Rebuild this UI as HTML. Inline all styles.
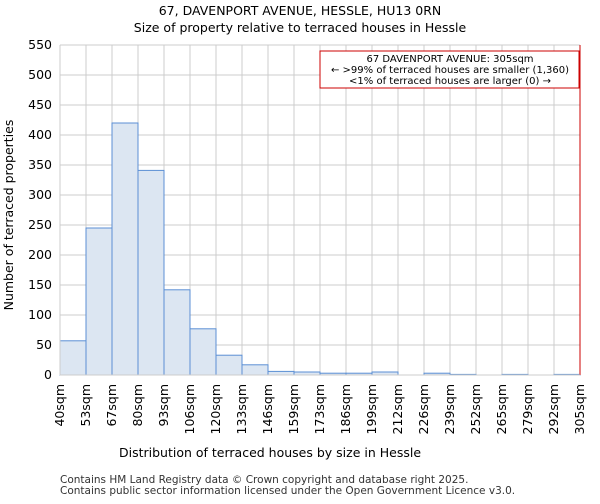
<!DOCTYPE html>
<html><head><meta charset="utf-8"><style>
body{margin:0;background:#fff;font-family:"DejaVu Sans","Liberation Sans",sans-serif;}
</style></head><body>
<svg id="c" width="600" height="500" xmlns="http://www.w3.org/2000/svg" font-family="DejaVu Sans, Liberation Sans, sans-serif">
<text x="300" y="15" text-anchor="middle" font-size="12.5">67, DAVENPORT AVENUE, HESSLE, HU13 0RN</text>
<text x="300" y="32" text-anchor="middle" font-size="12.5">Size of property relative to terraced houses in Hessle</text>
<g id="grid"></g><g id="bars"></g><g id="axes"></g>
<rect x="320" y="51" width="259" height="37" fill="#fff" stroke="#cc0000"/>
<text x="450" y="62" text-anchor="middle" font-size="10">67 DAVENPORT AVENUE: 305sqm</text>
<text x="450" y="73" text-anchor="middle" font-size="10">← &gt;99% of terraced houses are smaller (1,360)</text>
<text x="450" y="84" text-anchor="middle" font-size="10">&lt;1% of terraced houses are larger (0) →</text>
<text x="270" y="457" text-anchor="middle" font-size="12.5">Distribution of terraced houses by size in Hessle</text>
<text transform="translate(13,215) rotate(-90)" text-anchor="middle" font-size="12.5">Number of terraced properties</text>
<text x="60" y="483" font-size="10.5" fill="#333">Contains HM Land Registry data © Crown copyright and database right 2025.</text>
<text x="60" y="494" font-size="10.5" fill="#333">Contains public sector information licensed under the Open Government Licence v3.0.</text>
</svg>
<script>
const categories=["40sqm","53sqm","67sqm","80sqm","93sqm","106sqm","120sqm","133sqm","146sqm","159sqm","173sqm","186sqm","199sqm","212sqm","226sqm","239sqm","252sqm","265sqm","279sqm","292sqm","305sqm"];
const values=[57,245,420,341,142,77,33,17,6,5,3,3,5,0,3,1,0,1,0,1];
const yTicks=[0,50,100,150,200,250,300,350,400,450,500,550];
const markerIndex=20;
const X0=60,X1=580,Y0=375,Y1=45,YMAX=550;
const bw=(X1-X0)/values.length;
const xs=i=>X0+i*bw, ys=v=>Y0-(v/YMAX)*(Y0-Y1);
const NS="http://www.w3.org/2000/svg";
function mk(t,a,p){const e=document.createElementNS(NS,t);for(const k in a)e.setAttribute(k,a[k]);p.appendChild(e);return e;}
const g=document.getElementById('grid'),b=document.getElementById('bars'),ax=document.getElementById('axes');
yTicks.forEach(v=>{
 const l=mk('line',{x1:X0,x2:X1,y1:ys(v),y2:ys(v),stroke:'#ccc'},g);
 
 
 const t=mk('text',{x:X0-8,y:ys(v)+4,'text-anchor':'end','font-size':12.5},ax);t.textContent=v;
 
 
});
categories.forEach((c,i)=>{
 const x=xs(i);
 const l=mk('line',{x1:x,x2:x,y1:Y1,y2:Y0,stroke:'#ccc'},g);
 
 
 const t=mk('text',{transform:`translate(${x+4},${Y0+9}) rotate(-90)`,'text-anchor':'end','font-size':12.5},ax);t.textContent=c;
 
 
});
values.forEach((v,i)=>{
 if(v<=0)return;
 const r=mk('rect',{x:xs(i),y:ys(v),width:bw,height:Y0-ys(v),fill:'#dce6f2',stroke:'#5b8fd4','stroke-width':1},b);
 
 
});
const m=mk('line',{x1:xs(markerIndex),x2:xs(markerIndex),y1:Y1,y2:Y0,stroke:'#cc0000','stroke-width':1},ax);


const a1=mk('line',{x1:X0,x2:X0,y1:Y1,y2:Y0,stroke:'#ccc'},ax);


const a2=mk('line',{x1:X0,x2:X1,y1:Y0,y2:Y0,stroke:'#ccc'},ax);


</script>
</body></html>
